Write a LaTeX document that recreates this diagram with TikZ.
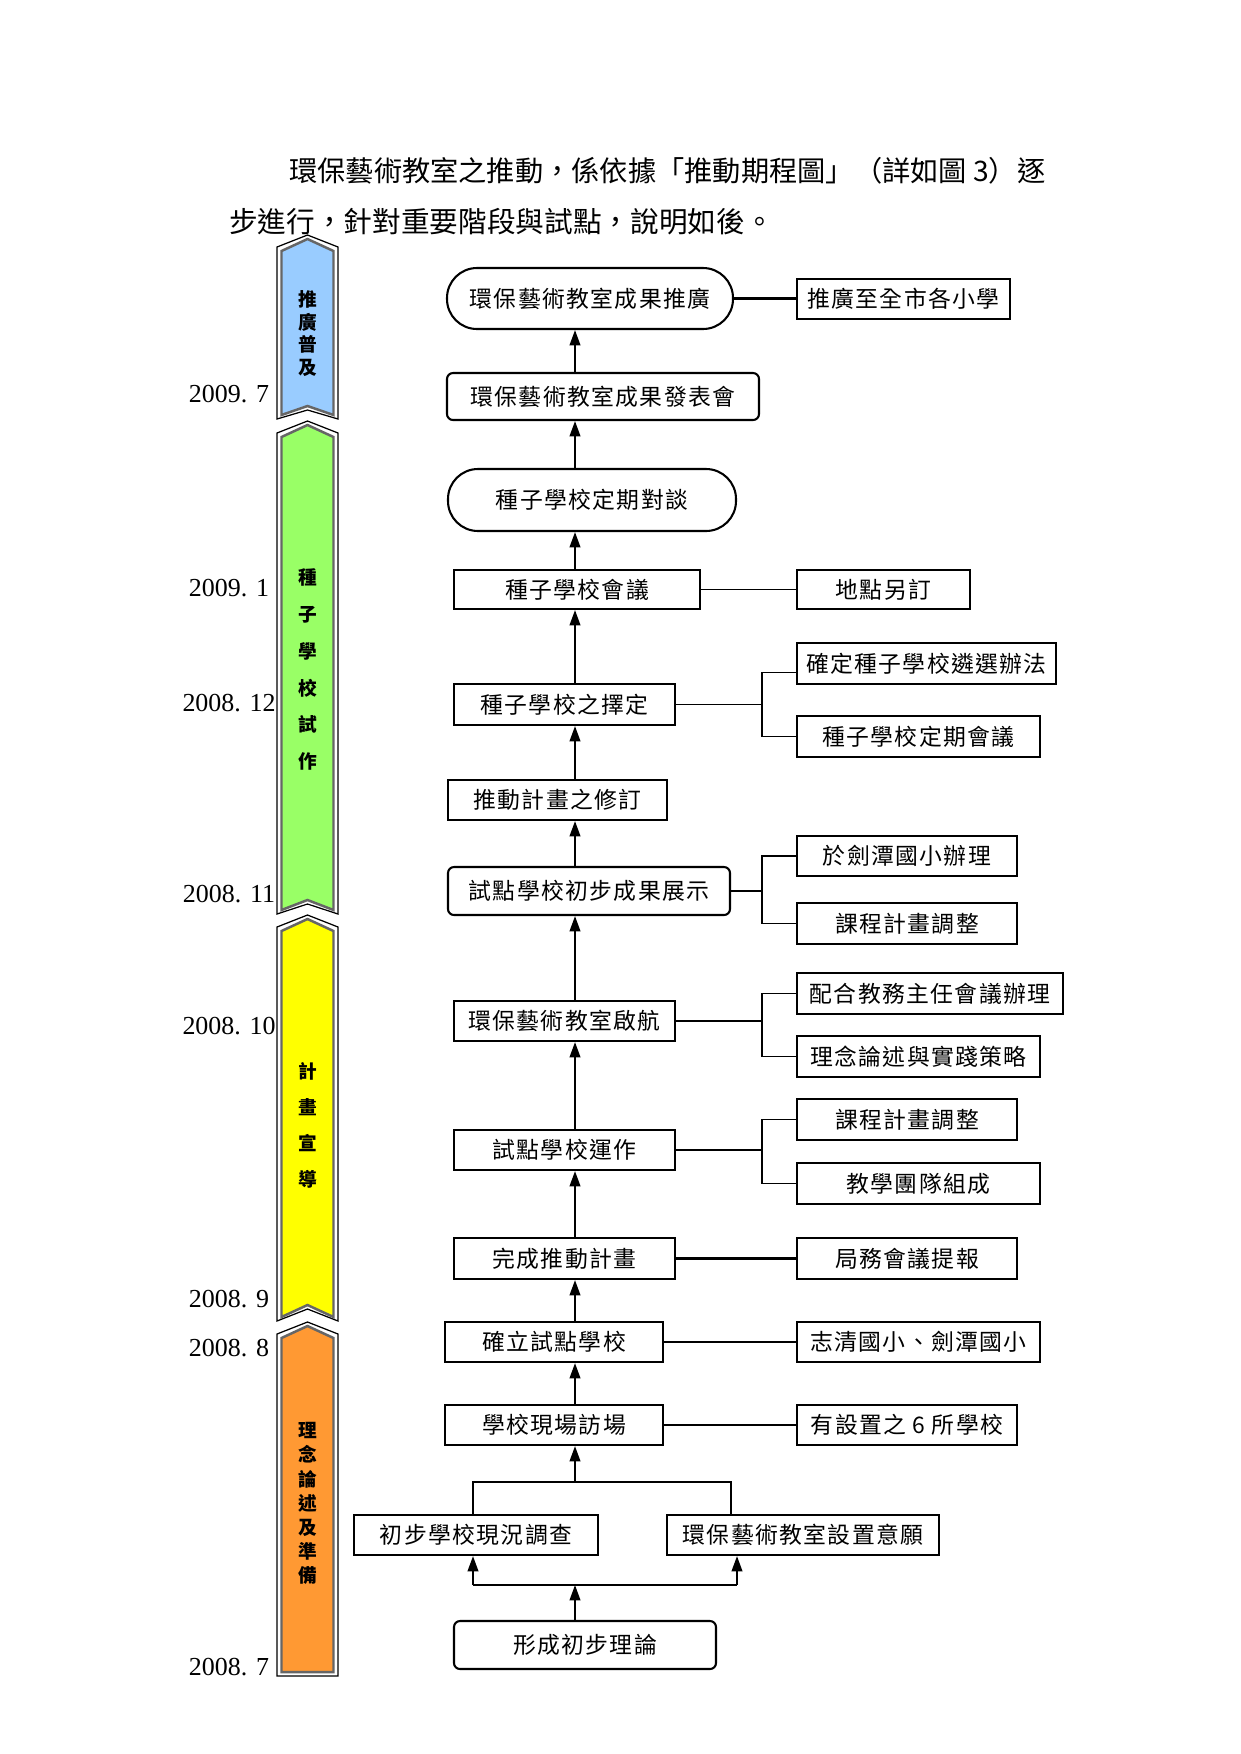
\documentclass[tikz,border=0pt]{standalone}
\usepackage{fontspec}
\setmainfont{Liberation Serif}
\newfontfamily\cjk{Noto Sans CJK TC}
\newfontfamily\cjkbox[LetterSpace=6]{Noto Sans CJK TC}
\usetikzlibrary{arrows.meta}
\newcommand\pxu{0.1693mm}
\newcommand\chevron[4]{%
  \draw[line width=0.6pt, fill=white] (277,#1+12) -- (307.5,#1) -- (338,#1+12) -- (338,#2) -- (307.5,#2-#3) -- (277,#2) -- cycle;
  \draw[draw=black!60, line width=1.2pt, fill=#4] (281.5,#1+16) -- (307.5,#1+4) -- (333.5,#1+16) -- (333.5,#2-4) -- (307.5,#2-4-#3) -- (281.5,#2-4) -- cycle;}
\definecolor{bandblue}{HTML}{99CCFF}
\definecolor{bandgreen}{HTML}{99FF66}
\definecolor{bandyellow}{HTML}{FFFF00}
\definecolor{bandorange}{HTML}{FF9933}

\begin{document}
\begin{tikzpicture}[x=\pxu, y=-\pxu,
  box/.style={draw, line width=1pt, fill=white, inner sep=0pt, font=\cjkbox\fontsize{11}{13}\selectfont},
  roundbox/.style={box, rounded corners=6*\pxu},
  stadium/.style={box, rounded corners=30*\pxu},
  wh/.style 2 args={minimum width=#1*\pxu, minimum height=#2*\pxu},
  date/.style={font=\fontsize{12.5}{14}\selectfont},
  bandtxt/.style={align=center, inner sep=0pt},
  arr/.style={line width=1pt, -{Triangle[width=1.8mm,length=2.6mm]}},
  link/.style={line width=0.8pt}]
\useasboundingbox (0,0) rectangle (1241,1754);

\node[anchor=west, font=\cjk\fontsize{13.6}{16}\selectfont] (hd1) at (282,171) {環保藝術教室之推動，係依據「推動期程圖」（詳如圖 3）逐};
\node[anchor=west, font=\cjk\fontsize{13.8}{16}\selectfont] (hd2) at (222,222) {步進行，針對重要階段與試點，說明如後。};

\chevron{235}{419}{9}{bandblue}
\chevron{421}{914}{10}{bandgreen}
\chevron{915}{1321}{12}{bandyellow}
\chevron{1322}{1676}{0}{bandorange}

\node[bandtxt, font=\cjk\bfseries\fontsize{9}{10.8}\selectfont] (bandA) at (308,333.5) {推\\廣\\普\\及};
\node[bandtxt, font=\cjk\bfseries\fontsize{9}{17.8}\selectfont] (bandB) at (308,669.5) {種\\子\\學\\校\\試\\作};
\node[bandtxt, font=\cjk\bfseries\fontsize{9}{17.3}\selectfont] (bandC) at (308,1125) {計\\畫\\宣\\導};
\node[bandtxt, font=\cjk\bfseries\fontsize{9}{11.6}\selectfont] (bandD) at (308,1503.5) {理\\念\\論\\述\\及\\準\\備};

\node[date] (d1) at (229,394) {2009. 7};
\node[date] (d2) at (229,588) {2009. 1};
\node[date] (d3) at (229,703) {2008. 12};
\node[date] (d4) at (229,894) {2008. 11};
\node[date] (d5) at (229,1026) {2008. 10};
\node[date] (d6) at (229,1299) {2008. 9};
\node[date] (d7) at (229,1348) {2008. 8};
\node[date] (d8) at (229,1667) {2008. 7};

\coordinate (trunk) at (575,0);
\coordinate (jx) at (762,0);

\node[stadium, wh={286}{61}] (b1) at (590,298.5) {環保藝術教室成果推廣};
\node[box, wh={213}{40}] (s1) at (903.5,299) {推廣至全市各小學};
\node[roundbox, wh={312}{47}] (b2) at (603,396.5) {環保藝術教室成果發表會};
\node[stadium, wh={288}{62}] (b3) at (592,500) {種子學校定期對談};
\node[box, wh={246}{39}] (b4) at (577,589.5) {種子學校會議};
\node[box, wh={173}{39}] (s4) at (883.5,589.5) {地點另訂};
\node[box, wh={221}{41}] (b5) at (564.5,704.5) {種子學校之擇定};
\node[box, wh={259}{41}] (s5a) at (926.5,663.5) {確定種子學校遴選辦法};
\node[box, wh={243}{41}] (s5b) at (918.5,736.5) {種子學校定期會議};
\node[box, wh={219}{40}] (b6) at (557.5,800) {推動計畫之修訂};
\node[roundbox, wh={282}{48}] (b7) at (589,891) {試點學校初步成果展示};
\node[box, wh={220}{40}] (s7a) at (907,856) {於劍潭國小辦理};
\node[box, wh={220}{41}] (s7b) at (907,923.5) {課程計畫調整};
\node[box, wh={221}{40}] (b8) at (564.5,1021) {環保藝術教室啟航};
\node[box, wh={266}{41}] (s8a) at (930,993.5) {配合教務主任會議辦理};
\node[box, wh={243}{41}] (s8b) at (918.5,1056.5) {理念論述與實踐策略};
\node[box, wh={221}{40}] (b9) at (564.5,1150) {試點學校運作};
\node[box, wh={220}{41}] (s9a) at (907,1119.5) {課程計畫調整};
\node[box, wh={243}{41}] (s9b) at (918.5,1183.5) {教學團隊組成};
\node[box, wh={221}{41}] (b10) at (564.5,1258.5) {完成推動計畫};
\node[box, wh={220}{41}] (s10) at (907,1258.5) {局務會議提報};
\node[box, wh={218}{40}] (b11) at (554,1342) {確立試點學校};
\node[box, wh={243}{40}] (s11) at (918.5,1342) {志清國小、劍潭國小};
\node[box, wh={218}{40}] (b12) at (554,1425) {學校現場訪場};
\node[box, wh={220}{40}] (s12) at (907,1425) {有設置之 6 所學校};
\node[box, wh={244}{40}] (c1) at (476,1535) {初步學校現況調查};
\node[box, wh={272}{40}] (c2) at (803,1535) {環保藝術教室設置意願};
\node[roundbox, wh={262}{48}] (b15) at (585,1645) {形成初步理論};

\coordinate (ml) at (473,1482);
\coordinate (mr) at (731,1482);
\coordinate (sl) at (473,1585);
\coordinate (sr) at (737,1585);

\draw[arr] (b2.north -| trunk) -- (b1.south -| trunk);
\draw[arr] (b3.north -| trunk) -- (b2.south -| trunk);
\draw[arr] (b4.north -| trunk) -- (b3.south -| trunk);
\draw[arr] (b5.north -| trunk) -- (b4.south -| trunk);
\draw[arr] (b6.north -| trunk) -- (b5.south -| trunk);
\draw[arr] (b7.north -| trunk) -- (b6.south -| trunk);
\draw[arr] (b8.north -| trunk) -- (b7.south -| trunk);
\draw[arr] (b9.north -| trunk) -- (b8.south -| trunk);
\draw[arr] (b10.north -| trunk) -- (b9.south -| trunk);
\draw[arr] (b11.north -| trunk) -- (b10.south -| trunk);
\draw[arr] (b12.north -| trunk) -- (b11.south -| trunk);
\draw[arr] (ml -| trunk) -- (b12.south -| trunk);
\draw[line width=1pt] (c1.north -| ml) -- (ml) -- (mr) -- (c2.north -| mr);
\draw[arr] (b15.north -| trunk) -- (sl -| trunk);
\draw[line width=1pt] (sl) -- (sr);
\draw[arr] (sl) -- (c1.south -| sl);
\draw[arr] (sr) -- (c2.south -| sr);

\draw[link, line width=1.2pt] (b1.east) -- (b1.east -| s1.west);
\draw[link] (b4.east) -- (b4.east -| s4.west);
\draw[link] (b5.east) -- (b5.east -| jx);
\draw[link] ([yshift=-9*\pxu]s5a.west) -| (jx |- s5b.west) -- (s5b.west);
\draw[link] (b7.east) -- (b7.east -| jx);
\draw[link] (s7a.west) -| (jx |- s7b.west) -- (s7b.west);
\draw[link] (b8.east) -- (b8.east -| jx);
\draw[link] (s8a.west) -| (jx |- s8b.west) -- (s8b.west);
\draw[link] (b9.east) -- (b9.east -| jx);
\draw[link] (s9a.west) -| (jx |- s9b.west) -- (s9b.west);
\draw[link, line width=1.2pt] (b10.east) -- (s10.west);
\draw[link] (b11.east) -- (s11.west);
\draw[link] (b12.east) -- (s12.west);
\end{tikzpicture}
\end{document}
